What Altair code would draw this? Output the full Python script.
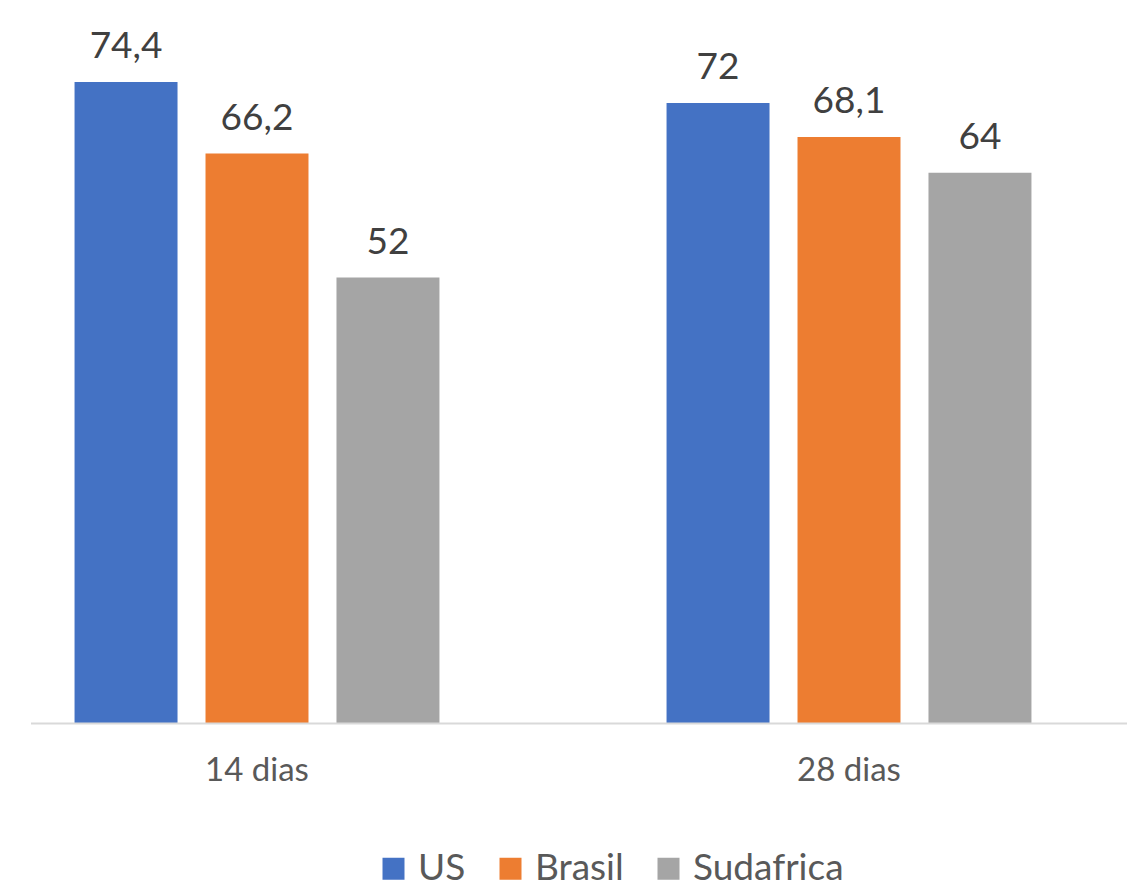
import altair as alt
import pandas as pd

# Chart data
periods = ["14 dias", "28 dias"]
countries = ["US", "Brasil", "Sudafrica"]
values_14 = [74.4, 66.2, 52]
values_28 = [72, 68.1, 64]
labels_14 = ["74,4", "66,2", "52"]
labels_28 = ["72", "68,1", "64"]
colors = ["#4472C4", "#ED7D31", "#A5A5A5"]

rows = []
for period, vals, labs in [(periods[0], values_14, labels_14), (periods[1], values_28, labels_28)]:
    for c, v, l in zip(countries, vals, labs):
        rows.append({"periodo": period, "pais": c, "valor": v, "etiqueta": l})
df = pd.DataFrame(rows)

W, H = 1096, 723
FONT = "Lato"

x_enc = alt.X("periodo:N", sort=periods,
              scale=alt.Scale(range=[-70, 1114], paddingInner=0, paddingOuter=0),
              axis=alt.Axis(title=None, domain=False, ticks=False, labelAngle=0,
                            labelFont=FONT, labelFontSize=33, labelColor="#595959",
                            labelPadding=57, labelBaseline="alphabetic"))
xo_enc = alt.XOffset("pais:N", sort=countries,
                     scale=alt.Scale(paddingInner=0.2137, paddingOuter=0.867))
y_scale = alt.Scale(domain=[0.96, 83.8], zero=False, nice=False)

bars = alt.Chart(df).mark_bar(clip=True).encode(
    x=x_enc,
    xOffset=xo_enc,
    y=alt.Y("valor:Q", scale=y_scale, axis=None),
    color=alt.Color("pais:N", sort=countries,
                    scale=alt.Scale(domain=countries, range=colors),
                    legend=alt.Legend(title=None, orient="none", direction="horizontal",
                                      legendX=344, legendY=850,
                                      symbolType="square", symbolSize=484,
                                      symbolStrokeWidth=0, symbolOpacity=1,
                                      labelFont=FONT, labelFontSize=37,
                                      labelColor="#595959", labelOffset=6,
                                      columnPadding=26, padding=0)),
)

text = alt.Chart(df).mark_text(font=FONT, fontSize=37, color="#404040",
                               baseline="alphabetic", dy=-24).encode(
    x=alt.X("periodo:N", sort=periods),
    xOffset=alt.XOffset("pais:N", sort=countries),
    y=alt.Y("valor:Q"),
    text="etiqueta:N",
)

axis_line = alt.Chart(pd.DataFrame({"v": [0]})).mark_rule(
    color="#D9D9D9", strokeWidth=2
).encode(x=alt.value(0), x2=alt.value(W), y=alt.value(H + 0.5))

chart = alt.layer(bars, text, axis_line).properties(
    width=W, height=H,
    autosize=alt.AutoSizeParams(type="none"),
    padding={"left": 31, "top": 0, "right": 0, "bottom": 157},
    background="white",
).configure_view(stroke=None)

chart.save("out.html", embed_options={"renderer": "svg", "actions": False})
